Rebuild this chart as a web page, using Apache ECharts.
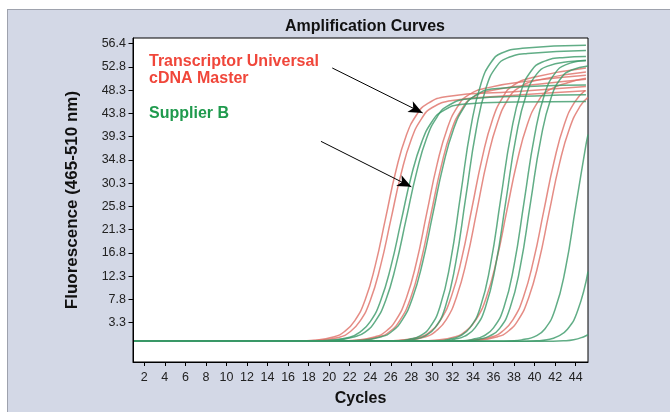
<!DOCTYPE html>
<html>
<head>
<meta charset="utf-8">
<script src="https://cdn.jsdelivr.net/npm/echarts@6.0.0/dist/echarts.min.js"></script>
<style>
  html, body { margin: 0; padding: 0; background: #ffffff; }
  #panel { position: absolute; left: 7px; top: 9px; width: 700px; height: 420px;
           background: #d3d8e6; border: 1px solid #9ea2ad; }
  #chart { position: absolute; left: 0; top: 0; width: 670px; height: 412px; }
</style>
</head>
<body>
<div id="panel"></div>
<div id="chart"></div>
<script>
// ---- axis ticks / labels ----
const xTicks = [2,4,6,8,10,12,14,16,18,20,22,24,26,28,30,32,34,36,38,40,42,44];
const yTickValues = [3.3, 7.8, 12.3, 16.8, 21.3, 25.8, 30.3, 34.8, 39.3, 43.8, 48.3, 52.8, 57.3];
const yTickLabels = ['3.3','7.8','12.3','16.8','21.3','25.8','30.3','34.8','39.3','43.8','48.3','52.8','56.4'];

// ---- Transcriptor Universal cDNA Master curves: [cycle, fluorescence] ----
const red1 = [[1,-0.3],[16.5,-0.3],[18.5,-0.1],[20.5,0.6],[21.5,1.6],[22.5,3.7],[23.5,7.7],[24.5,14.5],[25.5,23.6],[26.5,32.7],[27.5,39.5],[28.5,43.5],[29.5,45.6],[31.5,47.1],[38,48.0],[45,49.0]];
const red2 = [[1,-0.3],[17,-0.3],[19,-0.1],[21,0.5],[22,1.5],[23,3.6],[24,7.6],[25,14.3],[26,23.2],[27,32.1],[28,38.8],[29,42.8],[30,44.9],[32,46.3],[38,47.3],[45,48.2]];
const red3 = [[1,-0.3],[20.5,-0.3],[22.5,-0.1],[24.5,0.6],[25.5,1.6],[26.5,3.8],[27.5,8.0],[28.5,15.0],[29.5,24.5],[30.5,33.9],[31.5,40.9],[32.5,45.1],[33.5,47.3],[35.5,48.8],[40,50.2],[45,51.2]];
const red4 = [[1,-0.3],[20.9,-0.3],[22.9,-0.1],[24.9,0.6],[25.9,1.6],[26.9,3.8],[27.9,7.9],[28.9,14.9],[29.9,24.2],[30.9,33.5],[31.9,40.5],[32.9,44.6],[33.9,46.8],[35.9,48.3],[41,49.6],[45,50.4]];
const red5 = [[1,-0.3],[24.9,-0.3],[26.9,-0.1],[28.9,0.6],[29.9,1.7],[30.9,4.0],[31.9,8.4],[32.9,15.7],[33.9,25.5],[34.9,35.2],[35.9,42.6],[36.9,46.9],[37.9,49.2],[39.9,50.8],[45,52.6]];
const red6 = [[1,-0.3],[25.4,-0.3],[27.4,-0.1],[29.4,0.6],[30.4,1.7],[31.4,3.9],[32.4,8.3],[33.4,15.5],[34.4,25.2],[35.4,34.9],[36.4,42.1],[37.4,46.5],[38.4,48.7],[40.4,50.3],[45,51.8]];
const red7 = [[1,-0.3],[28.3,-0.3],[30.3,-0.1],[32.3,0.6],[33.3,1.7],[34.3,3.9],[35.3,8.2],[36.3,15.4],[37.3,25.0],[38.3,34.5],[39.3,41.7],[40.3,46.0],[41.3,48.2],[43.3,49.8],[45,50.6]];
const red8 = [[1,-0.3],[31.9,-0.3],[33.9,-0.1],[35.9,0.6],[36.9,1.7],[37.9,3.9],[38.9,8.2],[39.9,15.4],[40.9,25.0],[41.9,34.5],[42.9,41.7],[43.9,46.0],[44.9,48.2]];
const red9 = [[1,-0.3],[32.4,-0.3],[34.4,-0.1],[36.4,0.6],[37.4,1.6],[38.4,3.8],[39.4,8.0],[40.4,15.0],[41.4,24.5],[42.4,33.9],[43.4,40.9],[44.4,45.1],[45.2,46.9]];

// ---- Supplier B curves: [cycle, fluorescence] ----
const green1 = [[1,-0.3],[18,-0.3],[20,-0.1],[22,0.5],[23,1.5],[24,3.5],[25,7.5],[26,14.1],[27,22.9],[28,31.7],[29,38.2],[30,42.2],[31,44.2],[33,45.6],[38,46.0],[45,46.1]];
const green2 = [[1,-0.3],[18.5,-0.3],[20.5,-0.1],[22.5,0.6],[23.5,1.5],[24.5,3.6],[25.5,7.6],[26.5,14.4],[27.5,23.4],[28.5,32.3],[29.5,39.1],[30.5,43.1],[31.5,45.2],[33.5,46.6],[40,47.2],[45,47.4]];
const green3 = [[1,-0.3],[21.1,-0.3],[23.1,-0.1],[25.1,0.6],[26.1,1.6],[27.1,3.8],[28.1,8.0],[29.1,15.0],[30.1,24.4],[31.1,33.7],[32.1,40.7],[33.1,44.9],[34.1,47.1],[36.1,48.6],[45,49.3]];
const green4 = [[1,-0.3],[24.8,-0.3],[26.8,-0.2],[27.8,0.1],[28.8,0.7],[29.8,2.4],[30.8,6.5],[31.8,15.0],[32.8,28.1],[33.8,41.2],[34.8,49.7],[35.8,53.8],[36.8,55.5],[38.8,56.4],[45,57.0]];
const green5 = [[1,-0.3],[25.3,-0.3],[27.3,-0.2],[28.3,0.1],[29.3,0.7],[30.3,2.3],[31.3,6.3],[32.3,14.7],[33.3,27.6],[34.3,40.5],[35.3,48.9],[36.3,52.9],[37.3,54.5],[39.3,55.4],[45,56.0]];
const green6 = [[1,-0.3],[28.7,-0.3],[30.7,-0.2],[31.7,0.1],[32.7,0.7],[33.7,2.3],[34.7,6.2],[35.7,14.5],[36.7,27.2],[37.7,39.9],[38.7,48.2],[39.7,52.1],[40.7,53.7],[42.7,54.6],[45,54.8]];
const green7 = [[1,-0.3],[29.2,-0.3],[31.2,-0.2],[32.2,0.1],[33.2,0.7],[34.2,2.3],[35.2,6.2],[36.2,14.3],[37.2,26.8],[38.2,39.3],[39.2,47.5],[40.2,51.4],[41.2,52.9],[43.2,53.8],[45,54.0]];
const green8 = [[1,-0.3],[31,-0.3],[33,-0.2],[34,0.1],[35,0.7],[36,2.3],[37,6.2],[38,14.4],[39,27.0],[40,39.5],[41,47.7],[42,51.6],[43,53.2],[45,54.1]];
const green9 = [[1,-0.3],[31.6,-0.3],[33.6,-0.2],[34.6,0.1],[35.6,0.7],[36.6,2.2],[37.6,6.1],[38.6,14.1],[39.6,26.5],[40.6,38.8],[41.6,46.8],[42.6,50.7],[43.6,52.2],[45.2,53.0]];
const green10 = [[1,-0.3],[36,-0.3],[38,-0.2],[39,0.1],[40,0.6],[41,2.1],[42,5.9],[43,13.7],[44,25.7],[45,37.7],[45.2,39.7]];
const green11 = [[1,-0.3],[38.2,-0.3],[40.2,-0.2],[41.2,0.0],[42.2,0.6],[43.2,2.05],[44.2,5.65],[45.2,13.2]];
const green12 = [[1,-0.3],[40.8,-0.3],[42.8,-0.2],[43.8,0.0],[44.8,0.6],[45.2,1.0]];

const redCurves = [red1, red2, red3, red4, red5, red6, red7, red8, red9];
const greenCurves = [green1, green2, green3, green4, green5, green6, green7, green8, green9, green10, green11, green12];

// ---- annotation arrows: [start, end] in [cycle, fluorescence] ----
const arrowTranscriptor = [[20.3, 52.6], [29.1, 43.9]];
const arrowSupplier = [[19.2, 38.4], [28.0, 29.6]];

const RED = '#de6f67';
const GREEN = '#3a9868';

function curveSeries(data, color) {
  return {
    type: 'line', data: data, showSymbol: false, smooth: 0.5,
    silent: true, lineStyle: { color: color, width: 1.5, opacity: 0.8 }
  };
}

const series = [];
redCurves.forEach(c => series.push(curveSeries(c, RED)));
greenCurves.forEach(c => series.push(curveSeries(c, GREEN)));
series.push({
  type: 'line', data: [], silent: true,
  markLine: {
    silent: true, animation: false,
    symbol: ['none', 'arrow'], symbolSize: [9, 14],
    label: { show: false },
    lineStyle: { color: '#000', width: 1, type: 'solid' },
    data: [
      [{ coord: arrowTranscriptor[0] }, { coord: arrowTranscriptor[1] }],
      [{ coord: arrowSupplier[0] }, { coord: arrowSupplier[1] }]
    ]
  }
});

const chart = echarts.init(document.getElementById('chart'), null, { renderer: 'canvas' });
chart.setOption({
  backgroundColor: 'transparent',
  animation: false,
  title: {
    text: 'Amplification Curves', left: 360, top: 14, textAlign: 'center',
    textStyle: { fontFamily: 'Liberation Sans', fontWeight: 'bold', fontSize: 16, color: '#111' }
  },
  grid: {
    left: 133, right: 82, top: 38, bottom: 46, show: true,
    backgroundColor: '#ffffff', borderColor: '#000', borderWidth: 1
  },
  xAxis: {
    type: 'value', min: 0.9, max: 45.2,
    name: 'Cycles', nameLocation: 'middle', nameGap: 29,
    nameTextStyle: { fontFamily: 'Liberation Sans', fontWeight: 'bold', fontSize: 16, color: '#111' },
    axisLine: { show: true, onZero: false, lineStyle: { color: '#000', width: 1 } },
    axisTick: { show: true, length: 4, customValues: xTicks, lineStyle: { color: '#000' } },
    axisLabel: { customValues: xTicks, margin: 9, fontFamily: 'Liberation Sans', fontSize: 12.5, color: '#222' },
    splitLine: { show: false }
  },
  yAxis: {
    type: 'value', min: -4.3, max: 58.4,
    name: 'Fluorescence (465-510 nm)', nameLocation: 'middle', nameGap: 52, nameRotate: 90,
    nameTextStyle: { fontFamily: 'Liberation Sans', fontWeight: 'bold', fontSize: 17, color: '#111' },
    axisLine: { show: true, onZero: false, lineStyle: { color: '#000', width: 1 } },
    axisTick: { show: true, length: 4.5, customValues: yTickValues, lineStyle: { color: '#000' } },
    axisLabel: {
      customValues: yTickValues, margin: 7, fontFamily: 'Liberation Sans', fontSize: 12.5, color: '#222',
      formatter: function (v) {
        const i = yTickValues.findIndex(t => Math.abs(t - v) < 1e-6);
        return i >= 0 ? yTickLabels[i] : '';
      }
    },
    splitLine: { show: false }
  },
  graphic: [
    { type: 'text', x: 149, y: 62, silent: true,
      style: { text: 'Transcriptor Universal', fill: '#f0463a', font: 'bold 16px "Liberation Sans"', verticalAlign: 'middle' } },
    { type: 'text', x: 149, y: 79, silent: true,
      style: { text: 'cDNA Master', fill: '#f0463a', font: 'bold 16px "Liberation Sans"', verticalAlign: 'middle' } },
    { type: 'text', x: 149, y: 114, silent: true,
      style: { text: 'Supplier B', fill: '#1f9a4d', font: 'bold 16px "Liberation Sans"', verticalAlign: 'middle' } }
  ],
  series: series
});
</script>
</body>
</html>
